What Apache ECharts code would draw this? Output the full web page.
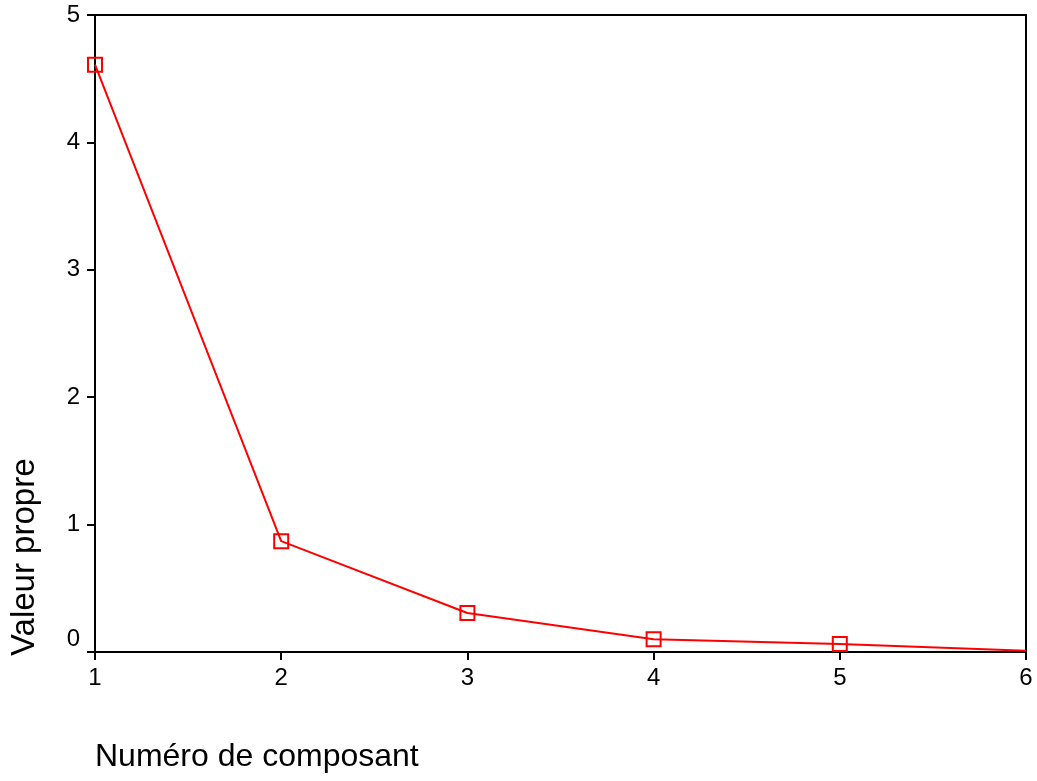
<!DOCTYPE html>
<html>
<head>
<meta charset="utf-8">
<script src="https://cdn.jsdelivr.net/npm/echarts@6/dist/echarts.min.js"></script>
<style>
  html, body { margin: 0; padding: 0; background: #fff; }
  #chart { width: 1037px; height: 781px; }
</style>
</head>
<body>
<div id="chart"></div>
<script>
// composantes et valeurs propres
const composants = [1, 2, 3, 4, 5, 6]
const valeurs = [4.61, 0.87, 0.306, 0.10, 0.063, 0.01]
const yTicks = [0, 1, 2, 3, 4, 5]

const font = 'Liberation Sans, Arial, sans-serif'
const data = composants.map((c, i) => ({
  value: [c, valeurs[i]],
  // le dernier point n'a pas de marqueur
  symbol: i === composants.length - 1 ? 'none' : 'rect'
}))

const myChart = echarts.init(document.getElementById('chart'))
myChart.setOption({
  animation: false,
  grid: {
    left: 95, right: 11, top: 15, bottom: 129,
    show: true, borderColor: '#000', borderWidth: 2
  },
  xAxis: {
    type: 'value', min: 1, max: 6, interval: 1,
    axisLine: { show: true, lineStyle: { color: '#000', width: 2 } },
    axisTick: { show: true, length: 8, lineStyle: { color: '#000', width: 2 } },
    axisLabel: { color: '#000', fontSize: 24, fontFamily: font, margin: 14 },
    splitLine: { show: false }
  },
  yAxis: {
    type: 'value', min: yTicks[0], max: yTicks[yTicks.length - 1], interval: 1,
    axisLine: { show: true, lineStyle: { color: '#000', width: 2 } },
    axisTick: { show: true, length: 8, lineStyle: { color: '#000', width: 2 } },
    axisLabel: {
      color: '#000', fontSize: 24, fontFamily: font, margin: 15,
      // le 0 est légèrement remonté
      formatter: v => (v === 0 ? '{z|0}' : String(v)),
      rich: { z: { fontSize: 24, fontFamily: font, color: '#000', padding: [0, 0, 26, 0] } }
    },
    splitLine: { show: false }
  },
  graphic: [
    {
      type: 'text', left: 95, top: 741,
      style: { text: 'Numéro de composant', fontSize: 32, fontFamily: font, fill: '#000' }
    },
    {
      type: 'text', x: 8, y: 656, rotation: Math.PI / 2,
      style: { text: 'Valeur propre', fontSize: 33, fontFamily: font, fill: '#000', align: 'left', verticalAlign: 'top' },
      originX: 0, originY: 0
    }
  ],
  series: [
    {
      type: 'line',
      data: data,
      symbolSize: 14,
      lineStyle: { color: '#ff0000', width: 2 },
      itemStyle: { color: 'rgba(0,0,0,0)', borderColor: '#ff0000', borderWidth: 2 },
      clip: false,
      z: 3
    }
  ]
})
</script>
</body>
</html>
